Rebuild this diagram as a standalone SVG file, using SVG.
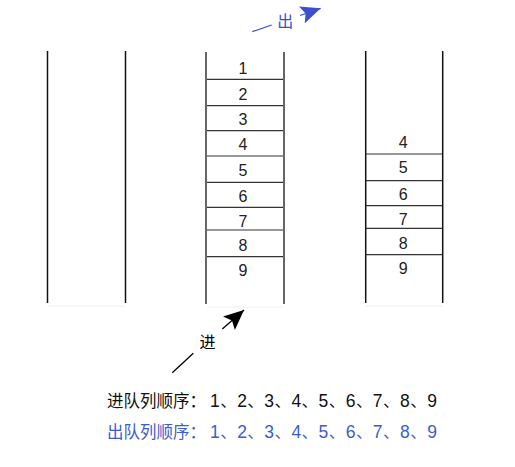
<svg xmlns="http://www.w3.org/2000/svg" width="515" height="467" viewBox="0 0 515 467">
<style>
.t{font-family:"Liberation Sans","Noto Sans CJK SC",sans-serif;font-size:16px;fill:#222;text-anchor:middle}
.v{stroke:#666;stroke-width:2;fill:none}
.vb{stroke:#111;stroke-width:1.5;fill:none}
.h{stroke:#333;stroke-width:1.2;fill:none}
.f{stroke:#eee;stroke-width:1;fill:none}
.cap{font-family:"Liberation Sans","Noto Sans CJK SC",sans-serif;font-size:16.5px}
.d{font-size:17.5px}
.seq{letter-spacing:0.45px}
</style>
<defs>
<marker id="ab" markerUnits="userSpaceOnUse" markerWidth="22" markerHeight="18" refX="20" refY="9" orient="auto"><path d="M0,0 L20,9 L0,18 L4,9 Z" fill="#3a50d0"/></marker>
<marker id="ak" markerUnits="userSpaceOnUse" markerWidth="22" markerHeight="18" refX="20" refY="9" orient="auto"><path d="M0,0 L20,9 L0,18 L4,9 Z" fill="#000"/></marker>
</defs>
<g id="stack-empty">
<line class="vb" x1="47.5" y1="51" x2="47.5" y2="303"/>
<line class="vb" x1="125.5" y1="51" x2="125.5" y2="303"/>
<line class="f" x1="48" y1="306" x2="125" y2="306"/>
</g>
<g id="stack-full">
<line class="v" x1="206" y1="52" x2="206" y2="304"/>
<line class="v" x1="284" y1="52" x2="284" y2="304"/>
<line class="f" x1="207" y1="307" x2="283" y2="307"/>
<line class="h" x1="207" y1="79.3" x2="283" y2="79.3"/>
<line class="h" x1="207" y1="105.7" x2="283" y2="105.7"/>
<line class="h" x1="207" y1="130.7" x2="283" y2="130.7"/>
<line class="h" x1="207" y1="156" x2="283" y2="156"/>
<line class="h" x1="207" y1="182.3" x2="283" y2="182.3"/>
<line class="h" x1="207" y1="207.3" x2="283" y2="207.3"/>
<line class="h" x1="207" y1="230" x2="283" y2="230"/>
<line class="h" x1="207" y1="256.7" x2="283" y2="256.7"/>
<text class="t" x="243" y="74">1</text>
<text class="t" x="243" y="100">2</text>
<text class="t" x="243" y="125">3</text>
<text class="t" x="243" y="150">4</text>
<text class="t" x="243" y="176">5</text>
<text class="t" x="243" y="201.7">6</text>
<text class="t" x="243" y="226.7">7</text>
<text class="t" x="243" y="251">8</text>
<text class="t" x="243" y="276">9</text>
</g>
<g id="stack-partial">
<line class="vb" x1="365.7" y1="51" x2="365.7" y2="303"/>
<line class="vb" x1="442.7" y1="51" x2="442.7" y2="303"/>
<line class="f" x1="366" y1="306" x2="442" y2="306"/>
<line class="h" x1="366" y1="154" x2="442" y2="154"/>
<line class="h" x1="366" y1="180.7" x2="442" y2="180.7"/>
<line class="h" x1="366" y1="205.7" x2="442" y2="205.7"/>
<line class="h" x1="366" y1="228.3" x2="442" y2="228.3"/>
<line class="h" x1="366" y1="254.7" x2="442" y2="254.7"/>
<text class="t" x="403.3" y="147.7">4</text>
<text class="t" x="403.3" y="173.3">5</text>
<text class="t" x="403.3" y="200">6</text>
<text class="t" x="403.3" y="225">7</text>
<text class="t" x="403.3" y="249.3">8</text>
<text class="t" x="403.3" y="274">9</text>
</g>
<g id="connectors">
<line x1="252.3" y1="31.7" x2="271.7" y2="25" stroke="#3a50d0" stroke-width="1.3"/>
<line x1="300" y1="15.5" x2="320.7" y2="8.3" stroke="#3a50d0" stroke-width="1.3" marker-end="url(#ab)"/>
<text x="285.3" y="26.5" font-family="Liberation Sans,Noto Sans CJK SC,sans-serif" font-size="16" fill="#3a50d0" text-anchor="middle">出</text>
<line x1="172.3" y1="372.7" x2="193.3" y2="353.3" stroke="#000" stroke-width="1.3"/>
<line x1="222.3" y1="329" x2="244" y2="310" stroke="#000" stroke-width="1.3" marker-end="url(#ak)"/>
<text x="207.5" y="347.5" font-family="Liberation Sans,Noto Sans CJK SC,sans-serif" font-size="16" fill="#000" text-anchor="middle">进</text>
</g>
<g id="captions">
<text class="cap" x="107" y="407" fill="#111">进队列顺序：<tspan class="seq" dx="4"><tspan class="d">1</tspan>、<tspan class="d">2</tspan>、<tspan class="d">3</tspan>、<tspan class="d">4</tspan>、<tspan class="d">5</tspan>、<tspan class="d">6</tspan>、<tspan class="d">7</tspan>、<tspan class="d">8</tspan>、<tspan class="d">9</tspan></tspan></text>
<text class="cap" x="107" y="438" fill="#3d5ccc">出队列顺序：<tspan class="seq" dx="4"><tspan class="d">1</tspan>、<tspan class="d">2</tspan>、<tspan class="d">3</tspan>、<tspan class="d">4</tspan>、<tspan class="d">5</tspan>、<tspan class="d">6</tspan>、<tspan class="d">7</tspan>、<tspan class="d">8</tspan>、<tspan class="d">9</tspan></tspan></text>
</g>
</svg>
